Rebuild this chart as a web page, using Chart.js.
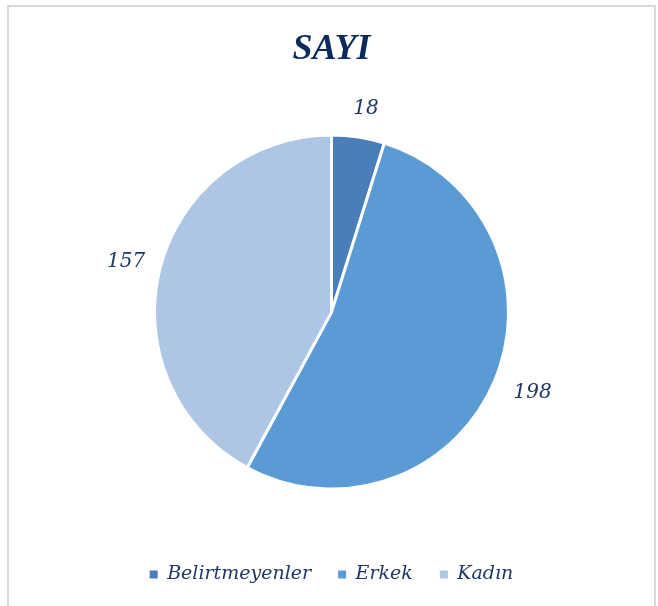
<!DOCTYPE html>
<html>
<head>
<meta charset="utf-8">
<script src="https://cdn.jsdelivr.net/npm/chart.js@4.4.1/dist/chart.umd.min.js"></script>
<style>
  body { margin: 0; background: #fff; }
  #box {
    position: absolute; left: 7px; top: 5px;
    width: 645px; height: 610px;
    border: 2px solid #d9d9d9;
  }
</style>
</head>
<body>
<div id="box"><canvas id="pie" width="645" height="599"></canvas></div>
<script>
// data
const labels = ['Belirtmeyenler', 'Erkek', 'Kadın'];
const counts = [18, 198, 157];
const colors = ['#4a7ebb', '#5b9bd5', '#adc6e6'];

const navy = '#1f3864';

// value labels just outside the slices
const outsideLabels = {
  id: 'outsideLabels',
  afterDatasetsDraw(chart) {
    const ctx = chart.ctx;
    const meta = chart.getDatasetMeta(0);
    ctx.save();
    ctx.font = 'italic 20px "DejaVu Serif"';
    ctx.fillStyle = navy;
    ctx.textAlign = 'center';
    ctx.textBaseline = 'middle';
    meta.data.forEach((arc, i) => {
      const p = arc.getProps(['x', 'y', 'startAngle', 'endAngle', 'outerRadius'], true);
      const mid = (p.startAngle + p.endAngle) / 2;
      const cx = Math.cos(mid), cy = Math.sin(mid);
      const txt = String(counts[i]);
      const w = ctx.measureText(txt).width;
      const h = 20;
      const d = p.outerRadius + 19;
      ctx.fillText(txt, p.x + cx * d + cx * w / 2 + 3, p.y + cy * d + cy * h / 2);
    });
    ctx.restore();
  }
};

new Chart(document.getElementById('pie'), {
  type: 'pie',
  data: {
    labels: labels,
    datasets: [{
      data: counts,
      backgroundColor: colors,
      borderColor: '#ffffff',
      borderWidth: 3,
      radius: 177
    }]
  },
  options: {
    responsive: false,
    animation: false,
    layout: { padding: { bottom: 12 } },
    plugins: {
      title: {
        display: true,
        text: 'SAYI',
        color: '#0d2a5c',
        font: { family: '"Liberation Serif"', size: 36, style: 'italic', weight: 'bold' },
        padding: { top: 21, bottom: 15 }
      },
      legend: {
        position: 'bottom',
        labels: {
          color: navy,
          font: { family: '"DejaVu Serif"', size: 19, style: 'italic' },
          boxWidth: 8,
          boxHeight: 8,
          padding: 27,
          generateLabels(chart) {
            const items = Chart.controllers.pie.overrides.plugins.legend.labels.generateLabels(chart);
            items.forEach(it => { it.lineWidth = 0; it.strokeStyle = it.fillStyle; });
            return items;
          }
        }
      },
      tooltip: { enabled: false }
    }
  },
  plugins: [outsideLabels]
});
</script>
</body>
</html>
